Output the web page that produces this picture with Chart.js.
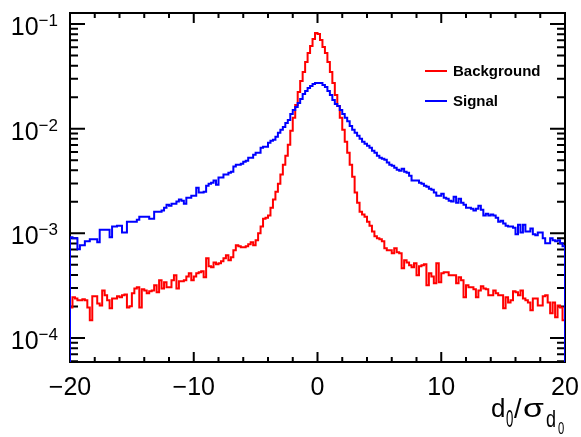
<!DOCTYPE html>
<html>
<head>
<meta charset="utf-8">
<script src="https://cdn.jsdelivr.net/npm/chart.js@4.4.1/dist/chart.umd.min.js"></script>
<style>
  body { margin: 0; background: #fff; }
</style>
</head>
<body>
<canvas id="d0Chart" width="581" height="437"></canvas>
<script>
// histogram binning: 200 bins of width 0.2 between -20 and 20
const xMin = -20, xMax = 20, nBins = 200
const binWidth = (xMax - xMin) / nBins
const yMin = 5.9e-5, yMax = 0.1274

// normalised d0 significance, background (prompt) tracks
const background = [
  1.96e-4, 2.45e-4, 2.39e-4, 2.29e-4, 2.29e-4, 2.34e-4, 2.29e-4, 1.96e-4, 1.48e-4, 2.50e-4,
  2.50e-4, 2.14e-4, 2.05e-4, 2.85e-4, 2.56e-4, 2.29e-4, 1.92e-4, 2.39e-4, 2.39e-4, 2.50e-4,
  2.45e-4, 2.56e-4, 2.61e-4, 1.96e-4, 2.01e-4, 2.67e-4, 2.98e-4, 3.05e-4, 1.96e-4, 2.92e-4,
  2.85e-4, 2.67e-4, 2.79e-4, 2.85e-4, 3.19e-4, 2.73e-4, 3.56e-4, 2.98e-4, 3.41e-4, 3.05e-4,
  3.05e-4, 3.56e-4, 3.97e-4, 2.98e-4, 3.48e-4, 3.48e-4, 3.56e-4, 3.88e-4, 4.15e-4, 3.56e-4,
  3.88e-4, 4.15e-4, 4.24e-4, 4.34e-4, 3.80e-4, 5.77e-4, 4.84e-4, 4.74e-4, 5.28e-4, 5.06e-4,
  5.17e-4, 5.40e-4, 5.77e-4, 6.16e-4, 5.52e-4, 5.90e-4, 6.88e-4, 7.68e-4, 7.51e-4, 7.35e-4,
  7.35e-4, 7.51e-4, 7.85e-4, 8.20e-4, 7.68e-4, 8.57e-4, 1.00e-3, 1.16e-3, 1.38e-3, 1.41e-3,
  1.48e-3, 1.76e-3, 2.10e-3, 2.50e-3, 2.98e-3, 3.64e-3, 4.53e-3, 5.52e-3, 7.03e-3, 9.57e-3,
  1.27e-2, 1.68e-2, 2.24e-2, 2.85e-2, 3.48e-2, 4.34e-2, 5.28e-2, 6.16e-2, 7.19e-2, 8.20e-2,
  8.03e-2, 7.03e-2, 6.03e-2, 5.28e-2, 4.34e-2, 3.48e-2, 2.73e-2, 2.10e-2, 1.65e-2, 1.27e-2,
  9.78e-3, 7.51e-3, 5.90e-3, 4.53e-3, 3.48e-3, 2.45e-3, 1.96e-3, 1.61e-3, 1.51e-3, 1.44e-3,
  1.29e-3, 1.18e-3, 1.04e-3, 9.36e-4, 8.96e-4, 8.76e-4, 8.39e-4, 7.19e-4, 6.88e-4, 6.88e-4,
  6.44e-4, 7.19e-4, 6.58e-4, 6.44e-4, 4.63e-4, 5.52e-4, 5.28e-4, 4.95e-4, 4.74e-4, 5.17e-4,
  3.97e-4, 4.84e-4, 4.95e-4, 5.06e-4, 3.19e-4, 4.15e-4, 3.88e-4, 3.33e-4, 5.17e-4, 3.41e-4,
  4.15e-4, 4.24e-4, 4.24e-4, 3.97e-4, 3.97e-4, 3.97e-4, 3.33e-4, 3.80e-4, 3.56e-4, 2.45e-4,
  3.19e-4, 3.05e-4, 3.05e-4, 2.92e-4, 2.45e-4, 2.85e-4, 3.12e-4, 2.98e-4, 2.92e-4, 2.56e-4,
  2.56e-4, 2.85e-4, 2.67e-4, 2.56e-4, 2.56e-4, 1.92e-4, 2.45e-4, 2.19e-4, 2.29e-4, 2.79e-4,
  2.73e-4, 2.56e-4, 2.85e-4, 2.39e-4, 2.29e-4, 2.19e-4, 1.84e-4, 2.39e-4, 2.39e-4, 2.05e-4,
  2.05e-4, 2.50e-4, 2.56e-4, 2.19e-4, 1.72e-4, 2.19e-4, 1.58e-4, 2.05e-4, 1.96e-4, 1.48e-4
]

// signal (displaced) tracks
const signal = [
  9.16e-4, 8.96e-4, 8.96e-4, 7.03e-4, 7.68e-4, 7.68e-4, 8.39e-4, 8.39e-4, 8.76e-4, 8.76e-4,
  8.76e-4, 8.20e-4, 1.08e-3, 1.08e-3, 1.08e-3, 1.08e-3, 9.16e-4, 1.16e-3, 1.16e-3, 1.18e-3,
  1.18e-3, 1.02e-3, 1.02e-3, 1.29e-3, 1.29e-3, 1.29e-3, 1.29e-3, 1.35e-3, 1.44e-3, 1.44e-3,
  1.44e-3, 1.44e-3, 1.38e-3, 1.38e-3, 1.61e-3, 1.61e-3, 1.61e-3, 1.65e-3, 1.76e-3, 1.88e-3,
  1.84e-3, 1.92e-3, 1.92e-3, 2.01e-3, 2.10e-3, 2.05e-3, 1.92e-3, 2.19e-3, 2.19e-3, 2.29e-3,
  2.29e-3, 2.73e-3, 2.45e-3, 2.45e-3, 2.50e-3, 2.85e-3, 2.98e-3, 3.05e-3, 3.19e-3, 2.92e-3,
  3.41e-3, 3.41e-3, 3.64e-3, 3.64e-3, 3.80e-3, 3.88e-3, 4.34e-3, 4.53e-3, 4.53e-3, 4.63e-3,
  4.84e-3, 4.95e-3, 5.28e-3, 5.28e-3, 5.64e-3, 5.90e-3, 5.90e-3, 6.58e-3, 6.73e-3, 6.73e-3,
  7.35e-3, 7.68e-3, 7.85e-3, 8.39e-3, 9.16e-3, 9.78e-3, 1.04e-2, 1.13e-2, 1.21e-2, 1.38e-2,
  1.51e-2, 1.61e-2, 1.76e-2, 1.92e-2, 2.14e-2, 2.29e-2, 2.45e-2, 2.56e-2, 2.67e-2, 2.73e-2,
  2.73e-2, 2.73e-2, 2.61e-2, 2.50e-2, 2.29e-2, 2.10e-2, 1.88e-2, 1.72e-2, 1.65e-2, 1.51e-2,
  1.38e-2, 1.27e-2, 1.18e-2, 1.06e-2, 9.78e-3, 9.16e-3, 8.57e-3, 8.03e-3, 7.51e-3, 7.19e-3,
  6.88e-3, 6.58e-3, 6.16e-3, 5.90e-3, 5.52e-3, 5.28e-3, 5.17e-3, 5.06e-3, 4.74e-3, 4.53e-3,
  4.43e-3, 4.24e-3, 4.06e-3, 3.97e-3, 4.15e-3, 3.88e-3, 3.80e-3, 3.56e-3, 3.19e-3, 3.19e-3,
  3.19e-3, 3.05e-3, 2.98e-3, 2.85e-3, 2.79e-3, 2.67e-3, 2.61e-3, 2.45e-3, 2.29e-3, 2.29e-3,
  2.39e-3, 2.19e-3, 2.14e-3, 2.05e-3, 2.01e-3, 2.24e-3, 1.96e-3, 2.14e-3, 1.96e-3, 1.88e-3,
  1.76e-3, 1.76e-3, 1.72e-3, 1.65e-3, 1.72e-3, 1.84e-3, 1.68e-3, 1.48e-3, 1.54e-3, 1.48e-3,
  1.51e-3, 1.48e-3, 1.41e-3, 1.29e-3, 1.32e-3, 1.24e-3, 1.18e-3, 1.16e-3, 1.16e-3, 1.13e-3,
  9.78e-4, 1.21e-3, 1.02e-3, 1.21e-3, 1.04e-3, 1.04e-3, 1.11e-3, 9.78e-4, 9.57e-4, 1.02e-3,
  1.02e-3, 8.96e-4, 8.03e-4, 8.03e-4, 8.96e-4, 8.57e-4, 8.39e-4, 8.57e-4, 8.03e-4, 7.51e-4
]

const xTicks = [-20, -10, 0, 10, 20]
const xTickLabels = ['\u221220', '\u221210', '0', '10', '20']
const yExponents = [-4, -3, -2, -1]

// bin contents -> outline points; the outline starts and ends at the bottom like TH1 drawing
const histPoints = (vals) => {
  const pts = [{ x: xMin, y: yMin / 10 }]
  vals.forEach((v, i) => pts.push({ x: xMin + i * binWidth, y: v }))
  pts.push({ x: xMax, y: vals[vals.length - 1] })
  pts.push({ x: xMax, y: yMin / 10 })
  return pts
}

const font = (size, bold) => `${bold ? 'bold ' : ''}${size}px "Liberation Sans", Arial, sans-serif`

// frame + inward ticks on all four sides, drawn below the histograms
const rootFrame = {
  id: 'rootFrame',
  beforeDatasetsDraw(chart) {
    const { ctx, chartArea: a, scales: { x, y } } = chart
    ctx.save()
    ctx.strokeStyle = '#000'
    ctx.lineWidth = 2
    ctx.beginPath()
    for (let v = xMin; v <= xMax; v += 2) {
      const px = x.getPixelForValue(v)
      const len = v % 10 === 0 ? 10 : 5
      ctx.moveTo(px, a.bottom); ctx.lineTo(px, a.bottom - len)
      ctx.moveTo(px, a.top); ctx.lineTo(px, a.top + len)
    }
    for (let k = -5; k <= -1; k++) {
      for (let m = 1; m <= 9; m++) {
        const v = m * Math.pow(10, k)
        if (v < yMin || v > yMax) continue
        const py = y.getPixelForValue(v)
        const len = m === 1 ? 15 : 8
        ctx.moveTo(a.left, py); ctx.lineTo(a.left + len, py)
        ctx.moveTo(a.right, py); ctx.lineTo(a.right - len, py)
      }
    }
    ctx.stroke()
    ctx.strokeRect(a.left, a.top, a.right - a.left, a.bottom - a.top)
    ctx.restore()
  },
  afterDraw(chart) {
    const { ctx, chartArea: a, scales: { x, y } } = chart
    ctx.save()
    ctx.fillStyle = '#000'
    ctx.textBaseline = 'alphabetic'

    // x tick labels
    ctx.font = font(25)
    ctx.textAlign = 'center'
    xTicks.forEach((v, i) => ctx.fillText(xTickLabels[i], x.getPixelForValue(v), a.bottom + 33))

    // y tick labels 10^k
    ctx.textAlign = 'left'
    yExponents.forEach(k => {
      const py = y.getPixelForValue(Math.pow(10, k))
      const exp = '\u2212' + Math.abs(k)
      ctx.font = font(17)
      const ew = ctx.measureText(exp).width
      ctx.font = font(25)
      const bw = ctx.measureText('10').width
      const right = a.left - 12
      ctx.fillText('10', right - ew - bw, py + 11)
      ctx.font = font(17)
      ctx.fillText(exp, right - ew, py + 2)
    })

    // axis title d0/sigma_d0, glyphs squeezed/stretched like the TLatex rendering
    const glyph = (txt, size, gx, base, sx) => {
      ctx.save()
      ctx.font = font(size)
      ctx.translate(gx, base)
      ctx.scale(sx, 1)
      ctx.fillText(txt, 0, 0)
      ctx.restore()
    }
    glyph('d', 26, 491, 417, 1)
    glyph('0', 24, 506, 427, 0.55)
    glyph('/', 27, 514, 418, 1)
    glyph('\u03c3', 26, 523, 417, 1.3)
    glyph('d', 24, 546, 427, 0.75)
    glyph('0', 16, 558, 434, 0.7)

    // legend
    chart.data.datasets.forEach((ds, i) => {
      const ly = [71, 101][i]
      ctx.strokeStyle = ds.borderColor
      ctx.lineWidth = 2
      ctx.beginPath()
      ctx.moveTo(425, ly); ctx.lineTo(447, ly)
      ctx.stroke()
      ctx.font = font(15, true)
      ctx.fillText(ds.label, 453, ly + 5)
    })
    ctx.restore()
  }
}

new Chart(document.getElementById('d0Chart'), {
  type: 'line',
  data: {
    datasets: [
      {
        label: 'Background',
        data: histPoints(background),
        borderColor: '#ff0000',
        borderWidth: 2,
        pointRadius: 0,
        stepped: 'before',
        fill: false,
        order: 1
      },
      {
        label: 'Signal',
        data: histPoints(signal),
        borderColor: '#0000ff',
        borderWidth: 2,
        pointRadius: 0,
        stepped: 'before',
        fill: false,
        order: 0
      }
    ]
  },
  options: {
    responsive: false,
    animation: false,
    events: [],
    layout: { padding: { left: 70, right: 16, top: 13, bottom: 75 } },
    scales: {
      x: {
        type: 'linear',
        min: xMin,
        max: xMax,
        grid: { display: false },
        border: { display: false },
        ticks: { display: false },
        afterFit: s => { s.height = 0 }
      },
      y: {
        type: 'logarithmic',
        min: yMin,
        max: yMax,
        grid: { display: false },
        border: { display: false },
        ticks: { display: false },
        afterFit: s => { s.width = 0 }
      }
    },
    plugins: {
      legend: { display: false },
      tooltip: { enabled: false }
    }
  },
  plugins: [rootFrame]
})
</script>
</body>
</html>
